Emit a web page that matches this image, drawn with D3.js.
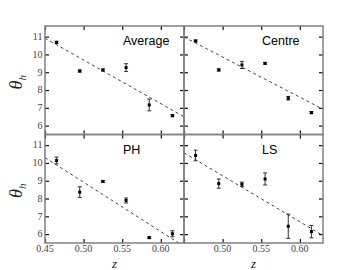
<!DOCTYPE html>
<html><head><meta charset="utf-8">
<script src="https://cdn.jsdelivr.net/npm/d3@7"></script>
<style>body{margin:0;background:#fff}svg{display:block}</style>
</head><body>
<svg id="c" width="360" height="270"></svg>
<script>
const zVals = [0.465, 0.495, 0.525, 0.555, 0.585, 0.615];
const panelNames = ["Average", "Centre", "PH", "LS"];
const avgVals = [10.68, 9.07, 9.13, 9.26, 7.16, 6.56];
const avgErr  = [0.06, 0.06, 0.06, 0.22, 0.33, 0.06];
const avgFit  = [10.91, 6.50];   // at z = 0.45, 0.63
const cenVals = [10.76, 9.13, 9.41, 9.50, 7.54, 6.73];
const cenErr  = [0.05, 0.06, 0.20, 0.05, 0.10, 0.06];
const cenFit  = [10.98, 6.92];
const phVals  = [10.14, 8.36, 8.96, 7.89, 5.80, 6.02];
const phErr   = [0.19, 0.30, 0.05, 0.14, 0.05, 0.17];
const phFit   = [10.30, 5.31];
const lsVals  = [10.42, 8.84, 8.80, 9.10, 6.44, 6.14];
const lsErr   = [0.30, 0.26, 0.12, 0.34, 0.68, 0.35];
const lsFit   = [10.57, 5.92];
const xTicks = [0.45, 0.50, 0.55, 0.60];
const yTicks = [6, 7, 8, 9, 10, 11];
const fitZ = [0.45, 0.63];

const panels = [
  {name: panelNames[0], vals: avgVals, err: avgErr, fit: avgFit, col: 0, row: 0},
  {name: panelNames[1], vals: cenVals, err: cenErr, fit: cenFit, col: 1, row: 0},
  {name: panelNames[2], vals: phVals,  err: phErr,  fit: phFit,  col: 0, row: 1},
  {name: panelNames[3], vals: lsVals,  err: lsErr,  fit: lsFit,  col: 1, row: 1}
];

const svg = d3.select("#c");
const L = 45, T = 26, PW = 139, PH = 108.5;
const serif = "'Liberation Serif','Times New Roman',serif";

panels.forEach((p, i) => {
  const x0 = L + p.col * PW, y0 = T + p.row * PH;
  const x = d3.scaleLinear().domain([0.45, 0.63]).range([x0, x0 + PW]);
  const y = d3.scaleLinear().domain([5.5, 11.6]).range([y0 + PH, y0]);
  const g = svg.append("g");
  const clipId = "clip" + i;
  svg.append("clipPath").attr("id", clipId).append("rect")
    .attr("x", x0).attr("y", y0).attr("width", PW).attr("height", PH);

  g.append("line").attr("clip-path", `url(#${clipId})`)
    .attr("x1", x(fitZ[0])).attr("y1", y(p.fit[0]))
    .attr("x2", x(fitZ[1])).attr("y2", y(p.fit[1]))
    .attr("stroke", "#444").attr("stroke-width", 1).attr("stroke-dasharray", "3,3");

  const tk = 4;
  const axB = d3.axisTop(x).tickValues(xTicks).tickSize(tk).tickFormat("");
  const axT = d3.axisBottom(x).tickValues(xTicks).tickSize(tk).tickFormat("");
  const axL = d3.axisRight(y).tickValues(yTicks).tickSize(tk).tickFormat("");
  const axR = d3.axisLeft(y).tickValues(yTicks).tickSize(tk).tickFormat("");
  [[axB, `translate(0,${y0 + PH})`], [axT, `translate(0,${y0})`],
   [axL, `translate(${x0},0)`], [axR, `translate(${x0 + PW},0)`]].forEach(([a, t]) => {
    const ga = g.append("g").attr("transform", t).call(a);
    ga.select(".domain").remove();
    ga.selectAll("line").attr("stroke", "#111").attr("stroke-width", 1.2);
  });

  g.append("rect").attr("x", x0).attr("y", y0).attr("width", PW).attr("height", PH)
    .attr("fill", "none").attr("stroke", "#808080").attr("stroke-width", 1.5);

  const eb = g.append("g").attr("stroke", "#333").attr("stroke-width", 1);
  zVals.forEach((z, j) => {
    const v = p.vals[j], e = p.err[j];
    const cx = x(z);
    eb.append("line").attr("x1", cx).attr("x2", cx).attr("y1", y(v - e)).attr("y2", y(v + e));
    eb.append("line").attr("x1", cx - 2).attr("x2", cx + 2).attr("y1", y(v - e)).attr("y2", y(v - e));
    eb.append("line").attr("x1", cx - 2).attr("x2", cx + 2).attr("y1", y(v + e)).attr("y2", y(v + e));
  });
  g.selectAll("rect.pt").data(zVals).join("rect").attr("class", "pt")
    .attr("x", d => x(d) - 1.5).attr("y", (d, j) => y(p.vals[j]) - 1.5)
    .attr("width", 3).attr("height", 3).attr("fill", "#000");

  g.append("text").attr("x", x0 + 78).attr("y", y0 + 19)
    .attr("font-family", "'Liberation Sans',Arial,sans-serif").attr("font-size", 12.5)
    .attr("fill", "#000").text(p.name);

  if (p.col === 0) {
    g.selectAll("text.yl").data(yTicks).join("text").attr("class", "yl")
      .attr("x", x0 - 2.5).attr("y", d => y(d) + 3.3).attr("text-anchor", "end")
      .attr("font-family", serif).attr("font-size", 10).attr("fill", "#444")
      .text(d => d);
    g.append("text").attr("transform", `translate(22,${y0 + PH / 2 + 2}) rotate(-90)`)
      .attr("text-anchor", "middle").attr("font-family", serif).attr("font-size", 18)
      .attr("font-style", "italic").attr("fill", "#222")
      .html("θ<tspan font-size='11' dy='4'>h</tspan>");
  }
  if (p.row === 1) {
    const xt = p.col === 0 ? xTicks : xTicks.slice(1);
    g.selectAll("text.xl").data(xt).join("text").attr("class", "xl")
      .attr("x", d => x(d)).attr("y", y0 + PH + 8.5).attr("text-anchor", "middle")
      .attr("font-family", serif).attr("font-size", 10).attr("fill", "#444")
      .text(d => d3.format(".2f")(d));
    g.append("text").attr("x", x0 + PW / 2).attr("y", 267.5).attr("text-anchor", "middle")
      .attr("font-family", serif).attr("font-size", 13).attr("font-style", "italic")
      .attr("fill", "#222").text("z");
  }
});
</script>
</body></html>
